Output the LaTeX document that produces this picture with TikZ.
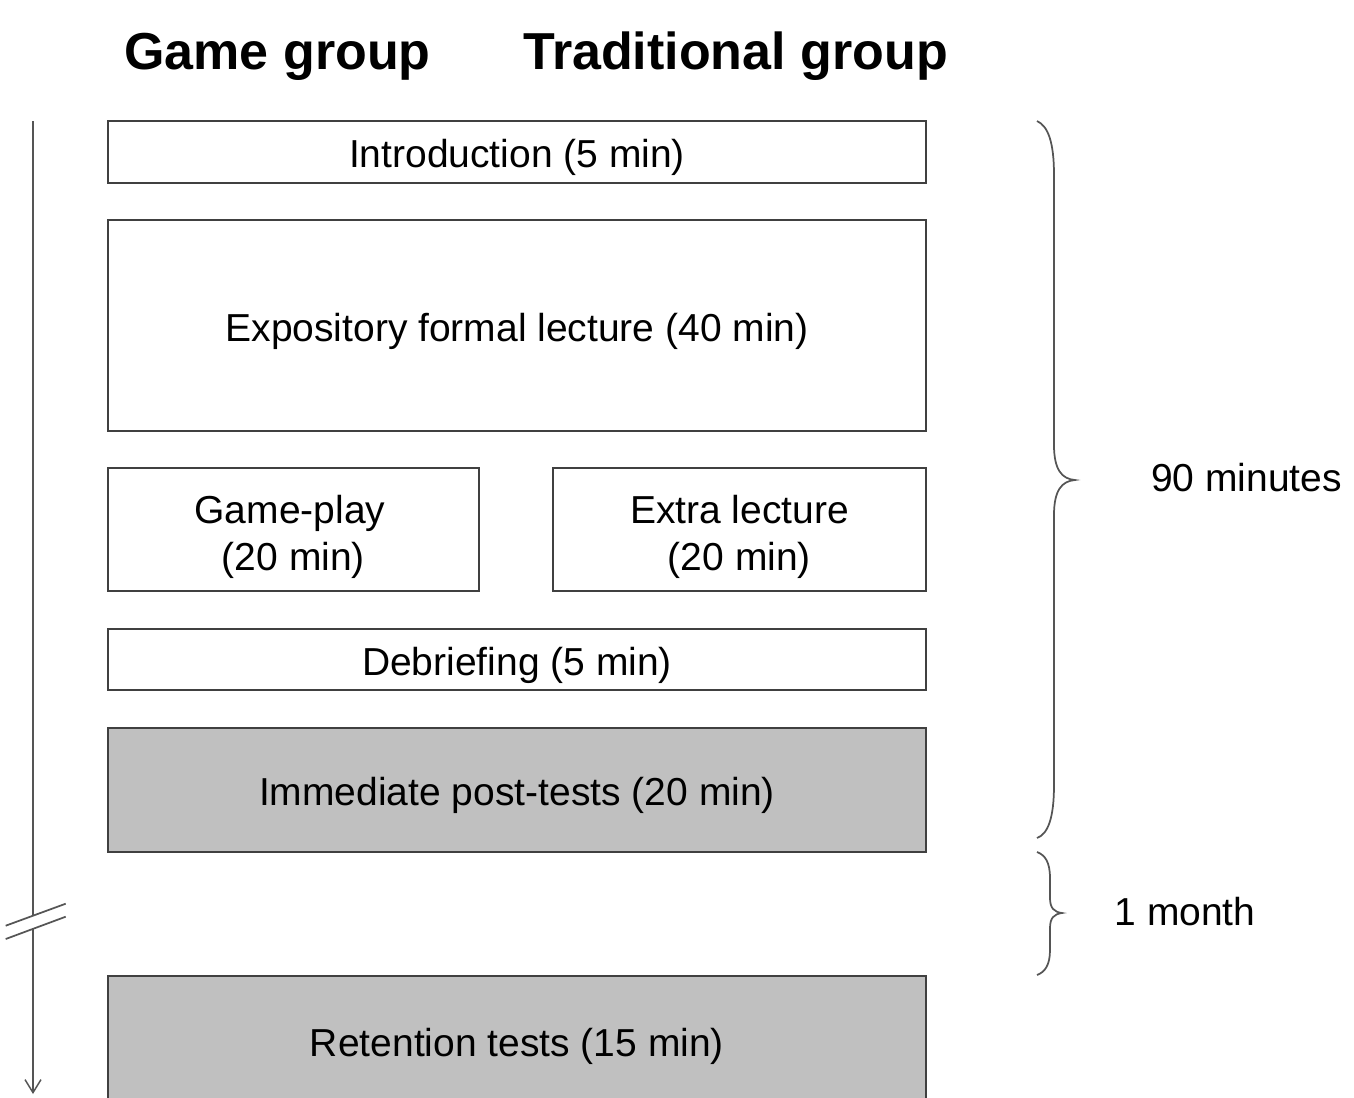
\documentclass[tikz,border=0pt]{standalone}
\usepackage{fontspec}
\setmainfont{Liberation Sans}
\usetikzlibrary{arrows.meta}
\newcommand{\pxu}{0.75pt}
\definecolor{boxline}{HTML}{404040}
\definecolor{boxfill}{HTML}{C0C0C0}
\definecolor{braceline}{HTML}{555555}
\begin{document}
\begin{tikzpicture}[x=0.75pt,y=-0.75pt,
  stage/.style={draw=boxline, line width=1.1pt, inner sep=0pt, anchor=center,
    font=\fontsize{29.25}{35}\selectfont, text height=23.9pt, text depth=0pt},
  shaded/.style={stage, fill=boxfill},
  linetext/.style={inner sep=0pt, anchor=base, font=\fontsize{29.25}{35}\selectfont},
  title/.style={inner sep=0pt, anchor=base, font=\fontsize{39}{45}\selectfont\bfseries},
  timeline/.style={draw=braceline, line width=1.3pt},
  bracepath/.style={draw=braceline, line width=1.3pt}]
\useasboundingbox (0,0) rectangle (1354,1097);
\clip (0,0) rectangle (1354,1097);

% titles
\node[title] (tg) at (277.5,69) {Game group};
\node[title] (tt) at (735.5,69) {Traditional group};

% boxes
\node[stage, minimum width=818*\pxu, minimum height=62*\pxu] (intro) at (517,152) {Introduction (5 min)};
\node[stage, minimum width=818*\pxu, minimum height=211*\pxu] (expo) at (517,325.5) {Expository formal lecture (40 min)};
\node[stage, minimum width=371*\pxu, minimum height=123*\pxu] (game) at (293.5,529.5) {};
\node[linetext] (game1) at (290,523) {Game-play};
\node[linetext] (game2) at (293.5,570) {(20 min)};
\node[stage, minimum width=373*\pxu, minimum height=123*\pxu] (extra) at (739.5,529.5) {};
\node[linetext] (extra1) at (739.5,523) {Extra lecture};
\node[linetext] (extra2) at (739.5,570) {(20 min)};
\node[stage, minimum width=818*\pxu, minimum height=61*\pxu] (debrief) at (517,659.5) {Debriefing (5 min)};
\node[shaded, minimum width=818*\pxu, minimum height=124*\pxu] (immed) at (517,790) {Immediate post-tests (20 min)};
\node[shaded, minimum width=818*\pxu, minimum height=130*\pxu] (retent) at (517,1041) {Retention tests (15 min)};

% timeline
\coordinate (t0) at (33,121);
\coordinate (b1) at (33,915.7);
\coordinate (b2) at (33,929);
\coordinate (tend) at (33,1094);
\draw[timeline] (t0) -- (b1);
\draw[timeline, -{Straight Barb[length=9.75pt,width=12pt,line width=1.1pt]}] (b2) -- (tend);
\coordinate (m1a) at (5.7,925.7);
\coordinate (m1b) at (65.7,903.7);
\coordinate (m2a) at (5.7,939);
\coordinate (m2b) at (65.7,916.7);
\draw[timeline] (m1a) -- (m1b);
\draw[timeline] (m2a) -- (m2b);

% braces
\draw[bracepath] (1037,121) .. controls (1048,126) and (1054,142) .. (1054,175)
  -- (1054,445) .. controls (1054,470) and (1062,479) .. (1075,480)
  .. controls (1062,481) and (1054,490) .. (1054,515)
  -- (1054,785) .. controls (1054,818) and (1048,834) .. (1037,838);
\draw[bracepath] (1037,852) .. controls (1045,855) and (1050,862) .. (1050,878)
  -- (1050,898) .. controls (1050,908) and (1054,912) .. (1062,913)
  .. controls (1054,914) and (1050,918) .. (1050,928)
  -- (1050,950) .. controls (1050,965) and (1045,972) .. (1037,975);

\node[linetext] (ninety) at (1246.5,491) {90 minutes};
\node[linetext] (month) at (1185,925) {1 month};
\end{tikzpicture}
\end{document}
